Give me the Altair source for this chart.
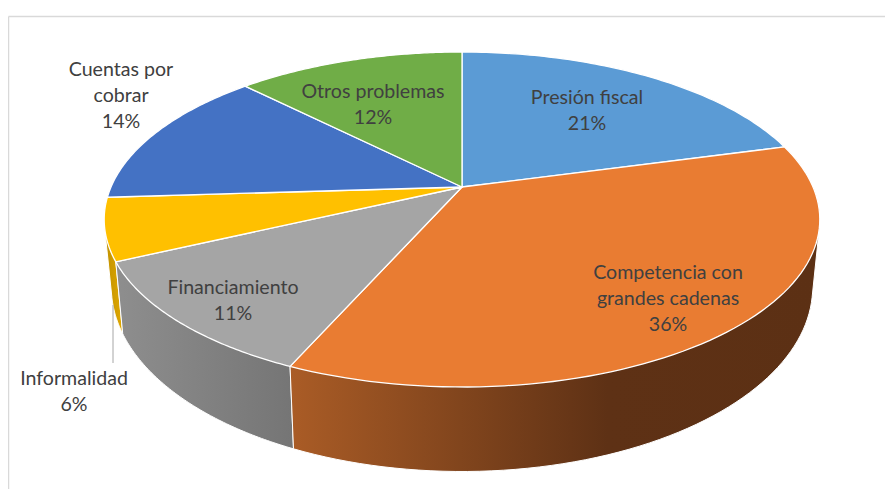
import numpy as np
import pandas as pd
import altair as alt

# Data (slice shares, clockwise from 12 o'clock)
categories = ["Presión fiscal", "Competencia con\ngrandes cadenas", "Financiamiento",
              "Informalidad", "Cuentas por\ncobrar", "Otros problemas"]
shares = [20.8, 35.8, 11.4, 6.0, 13.6, 12.4]
top_colors = ["#5B9BD5", "#E97C32", "#A5A5A5", "#FFC000", "#4472C4", "#70AD47"]

# Layout of the tilted disc, in picture pixels
CX, CY, AX, BY, K = 462.0, 187.0, 351.0, 161.2, 0.194
label_x = [587, 668, 233, 74, 121, 373]
label_y = [98, 273, 288, 379, 70, 92]  # first line of each label


def rim(t_deg):
    t = np.radians(t_deg)
    u, v = np.sin(t), np.cos(t)
    w = 1 + K * v
    return CX + AX * u / w, CY - BY * v / w


def drop(x, y):
    return CX + 0.98 * (x - CX), y + 72 + 0.1 * (y - 262)


def hull(points):
    pts = sorted(set(points))

    def half(seq):
        out = []
        for p in seq:
            while len(out) > 1 and (out[-1][0] - out[-2][0]) * (p[1] - out[-2][1]) - (out[-1][1] - out[-2][1]) * (p[0] - out[-2][0]) <= 0:
                out.pop()
            out.append(p)
        return out[:-1]

    return half(pts) + half(pts[::-1])


edges = np.concatenate([[0], np.cumsum(shares)]) * 3.6

top_rows, wall_rows = [], []
for i, cat in enumerate(categories):
    ts = np.linspace(edges[i], edges[i + 1], 80)
    xs, ys = rim(ts)
    pts = [(CX, CY)] + list(zip(xs, ys))
    for n, (x, y) in enumerate(pts):
        top_rows.append(dict(slice=i, n=n, x=x, y=y))
    if i in (1, 2, 3):
        bx, by = drop(xs, ys)
        ring = hull([(float(a), float(b)) for a, b in list(zip(xs, ys)) + list(zip(bx, by))])
        for n, (x, y) in enumerate(ring):
            wall_rows.append(dict(slice=i, n=n, x=x, y=y))

top_df = pd.DataFrame(top_rows)
wall_df = pd.DataFrame(wall_rows)
label_df = pd.DataFrame({
    "x": label_x, "y": label_y,
    "text": [f"{c}\n{round(s)}%" for c, s in zip(categories, shares)],
})

X = alt.X("x:Q", axis=None, scale=alt.Scale(domain=[8, 885]))
Y = alt.Y("y:Q", axis=None, scale=alt.Scale(domain=[489, 8]))


def gradient(stops):
    return alt.Gradient(gradient="linear", x1=0, x2=1, y1=0, y2=0,
                        stops=[alt.GradientStop(offset=o, color=c) for o, c in stops])


wall_fill = {
    1: gradient([(0, "#AA5C26"), (0.6, "#5E3115"), (1, "#5C3014")]),
    2: gradient([(0, "#8E8E8E"), (1, "#757575")]),
    3: gradient([(0, "#BF9000"), (1, "#E0A800")]),
}

layers = []
for i in (3, 2, 1):
    layers.append(
        alt.Chart(wall_df[wall_df.slice == i])
        .mark_line(interpolate="linear-closed", fill=wall_fill[i], stroke="#FFFFFF", strokeWidth=1)
        .encode(x=X, y=Y, order="n:Q")
    )
for i, color in enumerate(top_colors):
    layers.append(
        alt.Chart(top_df[top_df.slice == i])
        .mark_line(interpolate="linear-closed", fill=color, stroke="#FFFFFF", strokeWidth=1.3)
        .encode(x=X, y=Y, order="n:Q")
    )

leader = alt.Chart(pd.DataFrame({"x": [113], "y": [305], "y2": [363]})).mark_rule(
    color="#A6A6A6", strokeWidth=1
).encode(x=X, y=Y, y2="y2:Q")

labels = alt.Chart(label_df).mark_text(
    font="Lato", fontSize=19.6, color="#404040", lineBreak="\n", lineHeight=26,
    align="center", baseline="middle"
).encode(x=X, y=Y, text="text:N")

frame_left = alt.Chart(pd.DataFrame({"a": [0]})).mark_rule(color="#D9D9D9", strokeWidth=1.5).encode(
    x=alt.value(0.5), y=alt.value(8.5), y2=alt.value(481))
frame_top = alt.Chart(pd.DataFrame({"a": [0]})).mark_rule(color="#D9D9D9", strokeWidth=1.5).encode(
    x=alt.value(0.5), x2=alt.value(877), y=alt.value(8.5))

chart = alt.layer(frame_left, frame_top, *layers, leader, labels).properties(
    width=877, height=481, padding=0, autosize=alt.AutoSizeParams(type="none"),
    background="#FFFFFF"
).configure_view(stroke=None)

chart.save("out.html", embed_options={"renderer": "svg", "actions": False})
